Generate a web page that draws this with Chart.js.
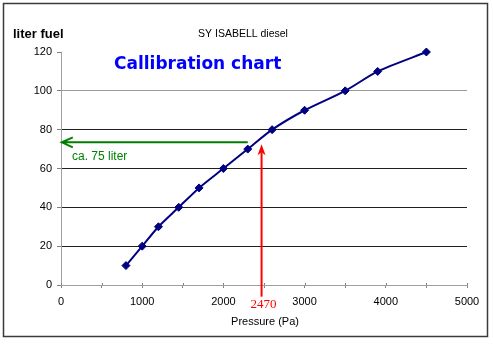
<!DOCTYPE html>
<html>
<head>
<meta charset="utf-8">
<script src="https://cdn.jsdelivr.net/npm/chart.js@4/dist/chart.umd.min.js"></script>
<style>
  html, body { margin: 0; padding: 0; background: #fff; }
  #wrap { position: relative; width: 493px; height: 344px; }
</style>
</head>
<body>
<div id="wrap"><canvas id="chart" width="493" height="344"></canvas></div>
<script>
// calibration data
const pressure = [800, 1000, 1200, 1450, 1700, 2000, 2300, 2600, 3000, 3500, 3900, 4500];
const literFuel = [10, 20, 30, 40, 50, 60, 70, 80, 90, 100, 110, 120];
const xTicks = [0, 1000, 2000, 3000, 4000, 5000];
const yTicks = [0, 20, 40, 60, 80, 100, 120];

// reading shown with the arrows
const readPressure = 2470;
const readLiter = 73.5;

const SANS = "'Liberation Sans', Arial, sans-serif";

const annotations = {
  id: "annotations",
  afterDraw(chart) {
    const { ctx, scales } = chart;
    const x = scales.x;
    const y = scales.y;
    ctx.save();

    // outer frame
    ctx.strokeStyle = "#3a3a3a";
    ctx.lineWidth = 1.5;
    ctx.strokeRect(3.5, 3.5, 484, 333);

    // small tick stubs above the x axis
    ctx.strokeStyle = "#808080";
    ctx.lineWidth = 1;
    for (let v = 0; v <= 5000; v += 500) {
      const px = Math.round(x.getPixelForValue(v)) + 0.5;
      ctx.beginPath();
      ctx.moveTo(px, y.bottom - 2);
      ctx.lineTo(px, y.bottom);
      ctx.stroke();
    }

    // texts
    ctx.fillStyle = "#000";
    ctx.textBaseline = "middle";
    ctx.textAlign = "left";
    ctx.font = "bold 13px " + SANS;
    ctx.fillText("liter fuel", 13, 34);

    ctx.textAlign = "center";
    ctx.font = "10.5px " + SANS;
    ctx.fillText("SY ISABELL diesel", 243, 34);

    ctx.font = "11px " + SANS;
    ctx.fillText("Pressure (Pa)", 265, 322);

    ctx.textAlign = "left";
    ctx.fillStyle = "#0000ff";
    ctx.font = "bold 17px 'DejaVu Sans', Verdana, sans-serif";
    ctx.fillText("Callibration chart", 114, 65);

    // green arrow (read liters)
    const gy = y.getPixelForValue(readLiter);
    const gx0 = x.getPixelForValue(2300);
    const gx1 = x.getPixelForValue(10);
    ctx.strokeStyle = "#008000";
    ctx.lineWidth = 2;
    ctx.beginPath();
    ctx.moveTo(gx0, gy);
    ctx.lineTo(gx1, gy);
    ctx.moveTo(gx1 + 11, gy - 5);
    ctx.lineTo(gx1, gy);
    ctx.lineTo(gx1 + 11, gy + 5);
    ctx.stroke();
    ctx.fillStyle = "#008000";
    ctx.font = "12px " + SANS;
    ctx.fillText("ca. 75 liter", 72, 157);

    // red arrow (measured pressure)
    const rx = x.getPixelForValue(readPressure);
    const ry0 = y.getPixelForValue(-6);
    const ry1 = y.getPixelForValue(72.5);
    ctx.strokeStyle = "#ff0000";
    ctx.fillStyle = "#ff0000";
    ctx.lineWidth = 2;
    ctx.beginPath();
    ctx.moveTo(rx, ry0);
    ctx.lineTo(rx, ry1 + 8);
    ctx.stroke();
    ctx.beginPath();
    ctx.moveTo(rx, ry1);
    ctx.lineTo(rx - 4, ry1 + 11);
    ctx.lineTo(rx, ry1 + 8);
    ctx.lineTo(rx + 4, ry1 + 11);
    ctx.closePath();
    ctx.fill();
    ctx.textAlign = "center";
    ctx.font = "13px 'Liberation Serif', 'Times New Roman', serif";
    ctx.fillText(String(readPressure), rx + 2, 305);

    ctx.restore();
  },
};

new Chart(document.getElementById("chart"), {
  type: "scatter",
  data: {
    datasets: [
      {
        label: "liter fuel",
        data: pressure.map((p, i) => ({ x: p, y: literFuel[i] })),
        showLine: true,
        tension: 0.25,
        clip: false,
        borderColor: "#000080",
        borderWidth: 2,
        backgroundColor: "#000080",
        pointStyle: "rectRot",
        pointRadius: 4,
        pointBorderWidth: 1,
      },
    ],
  },
  options: {
    responsive: false,
    animation: false,
    events: [],
    layout: { padding: { left: 0, top: 52, right: 26, bottom: 0 } },
    plugins: {
      legend: { display: false },
      title: { display: false },
      tooltip: { enabled: false },
    },
    scales: {
      x: {
        type: "linear",
        min: 0,
        max: 5000,
        afterFit: (scale) => { scale.height = 59; },
        afterBuildTicks: (scale) => {
          const all = [];
          for (let v = 0; v <= 5000; v += 500) all.push({ value: v });
          scale.ticks = all;
        },
        ticks: {
          autoSkip: false,
          maxRotation: 0,
          padding: 7,
          color: "#000",
          font: { family: SANS, size: 11 },
          callback: (v) => (xTicks.includes(v) ? String(v) : ""),
        },
        grid: {
          drawOnChartArea: false,
          tickLength: 3,
          tickColor: "#808080",
        },
        border: { color: "#a0a0a0", width: 1 },
      },
      y: {
        type: "linear",
        min: 0,
        max: 120,
        afterFit: (scale) => { scale.width = 61; },
        afterBuildTicks: (scale) => {
          scale.ticks = yTicks.map((v) => ({ value: v }));
        },
        ticks: {
          padding: 5,
          color: "#000",
          font: { family: SANS, size: 11 },
        },
        grid: {
          tickLength: 4,
          tickColor: "#808080",
          color: (c) => {
            const v = c.tick ? c.tick.value : null;
            if (v === 0 || v === 120) return "rgba(0,0,0,0)";
            if (v === 100) return "#9a9a9a";
            return "#202020";
          },
        },
        border: { color: "#a0a0a0", width: 1 },
      },
    },
  },
  plugins: [annotations],
});
</script>
</body>
</html>
